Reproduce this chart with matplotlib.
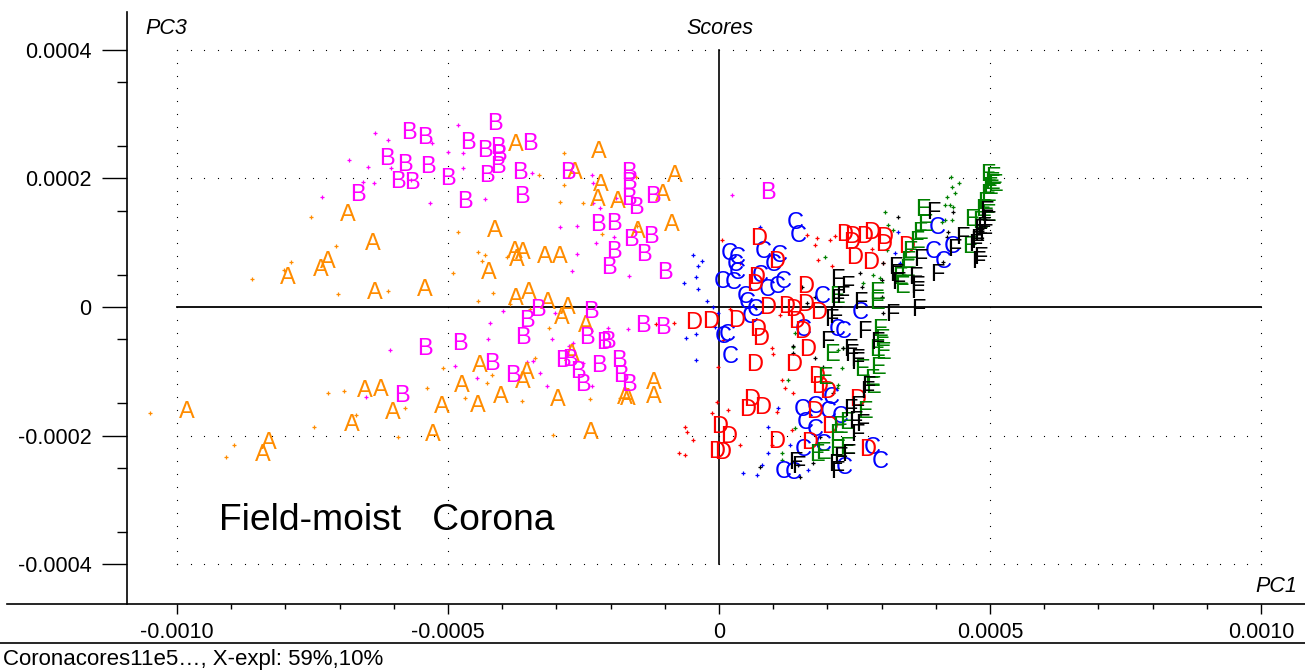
import numpy as np
import matplotlib
matplotlib.use("Agg")
import matplotlib.pyplot as plt
from matplotlib.lines import Line2D
from matplotlib.ticker import FixedLocator, FixedFormatter

plt.rcParams['font.family'] = ['Liberation Sans', 'DejaVu Sans']

SCALE = 1e-4  # score values below are written in units of 1e-4

# Labelled samples per class: (PC1, PC3)
scores_A = [(-9.82, -1.63), (-8.41, -2.30), (-8.30, -2.12), (-7.95, 0.45), (-7.34, 0.58),
            (-7.21, 0.70), (-6.85, 1.43), (-6.38, 0.98), (-6.35, 0.22), (-5.42, 0.26),
            (-6.53, -1.31), (-6.24, -1.29), (-6.77, -1.84), (-6.01, -1.65), (-5.11, -1.56),
            (-5.28, -1.99), (-2.21, 2.41), (-3.75, 2.52), (-2.66, 2.08), (-2.18, 1.90),
            (-0.81, 2.04), (-2.23, 1.66), (-1.86, 1.63), (-1.03, 1.74), (-0.87, 1.28),
            (-1.49, 1.17), (-4.13, 1.18), (-3.76, 0.86), (-3.62, 0.84), (-3.73, 0.73),
            (-3.21, 0.78), (-2.93, 0.78), (-4.24, 0.53), (-3.75, 0.12), (-3.51, 0.22),
            (-3.15, 0.06), (-2.79, -0.02), (-2.90, -0.17), (-2.45, -0.30), (-2.71, -0.75),
            (-4.41, -0.92), (-3.54, -1.03), (-3.62, -1.17), (-4.74, -1.23), (-4.02, -1.40),
            (-4.45, -1.54), (-2.97, -1.45), (-1.73, -1.42), (-1.68, -1.43), (-1.20, -1.18),
            (-1.20, -1.40), (-2.36, -1.96)]
scores_B = [(-5.72, 2.71), (-5.42, 2.63), (-6.13, 2.30), (-5.79, 2.21), (-5.37, 2.18),
            (-5.92, 1.94), (-5.66, 1.93), (-6.66, 1.74), (-4.13, 2.85), (-4.63, 2.55),
            (-4.32, 2.43), (-4.08, 2.47), (-4.06, 2.36), (-3.49, 2.53), (-4.08, 2.18),
            (-5.00, 1.99), (-4.28, 2.04), (-3.67, 2.08), (-2.79, 2.08), (-1.66, 2.08),
            (-1.66, 1.93), (0.90, 1.77), (-4.69, 1.63), (-3.63, 1.71), (-1.66, 1.68),
            (-1.53, 1.54), (-1.22, 1.71), (-2.23, 1.28), (-1.94, 1.29), (-1.62, 1.04),
            (-1.25, 1.09), (-1.94, 0.86), (-1.38, 0.81), (-2.03, 0.61), (-1.00, 0.53),
            (-3.34, -0.05), (-2.36, -0.08), (-3.54, -0.22), (-1.40, -0.30), (-1.03, -0.33),
            (-3.62, -0.48), (-4.78, -0.58), (-2.44, -0.48), (-2.12, -0.56), (-2.05, -0.54),
            (-5.42, -0.65), (-4.19, -0.89), (-3.80, -1.07), (-2.88, -0.84), (-2.75, -0.82),
            (-2.60, -1.01), (-2.21, -0.92), (-1.85, -0.84), (-1.81, -1.07), (-2.51, -1.21),
            (-1.66, -1.21), (-5.85, -1.38)]
scores_C = [(1.40, 1.31), (1.46, 1.10), (0.18, 0.82), (0.33, 0.76), (0.30, 0.65),
            (0.81, 0.86), (1.11, 0.79), (1.00, 0.65), (0.06, 0.39), (0.26, 0.37),
            (0.33, 0.53), (0.76, 0.48), (1.18, 0.39), (1.07, 0.31), (0.48, 0.16),
            (0.52, 0.06), (0.89, 0.26), (0.66, -0.05), (0.57, -0.16), (1.90, 0.16),
            (1.55, -0.36), (0.15, -0.44), (0.07, -0.47), (0.20, -0.78), (4.02, 1.23),
            (3.95, 0.86), (4.13, 0.70), (4.30, 0.93), (2.18, -0.36), (2.29, -0.39),
            (2.60, -0.09), (2.08, -1.42), (1.53, -1.60), (1.77, -1.56), (2.01, -1.63),
            (2.23, -1.71), (1.59, -1.80), (1.77, -1.91), (1.55, -2.22), (1.92, -2.15),
            (2.32, -2.50), (2.82, -2.19), (2.97, -2.41), (1.18, -2.57), (1.37, -2.58)]
scores_D = [(0.74, 1.06), (1.07, 0.70), (0.70, 0.45), (0.66, 0.34), (0.89, -0.02),
            (1.24, 0.00), (1.37, -0.05), (1.59, 0.03), (1.59, 0.31), (1.83, -0.09),
            (1.44, -0.23), (1.55, -0.39), (1.64, -0.67), (-0.46, -0.25), (-0.15, -0.23),
            (0.33, -0.22), (0.72, -0.36), (0.76, -0.50), (0.66, -0.90), (1.37, -0.90),
            (2.32, 1.12), (2.47, 1.09), (2.45, 1.00), (2.69, 1.09), (2.82, 1.15),
            (3.06, 1.07), (3.03, 0.96), (3.47, 0.93), (2.51, 0.76), (2.79, 0.68),
            (1.81, -1.09), (1.86, -1.24), (2.01, -1.32), (0.61, -1.45), (0.52, -1.60),
            (0.81, -1.57), (1.77, -1.63), (2.55, -1.45), (2.05, -1.87), (0.02, -1.87),
            (0.17, -2.02), (1.07, -2.10), (1.68, -2.12), (-0.04, -2.26), (0.06, -2.27),
            (2.75, -2.22)]
scores_E = [(2.18, 0.16), (2.92, 0.22), (2.92, 0.06), (2.97, -0.36), (3.01, -0.51),
            (2.92, -0.67), (3.03, -0.72), (2.08, -0.75), (3.76, 1.51), (3.80, 1.28),
            (3.71, 1.15), (3.65, 1.01), (3.52, 0.86), (3.34, 0.45), (3.38, 0.31),
            (3.49, 0.70), (3.47, 0.58), (4.63, 0.93), (4.96, 2.05), (5.06, 2.01),
            (5.04, 1.93), (5.00, 1.85), (4.96, 1.74), (4.91, 1.62), (4.87, 1.51),
            (4.82, 1.32), (4.67, 1.35), (5.09, 1.90), (4.96, 1.43), (2.64, -0.98),
            (2.93, -0.95), (1.96, -1.10), (2.84, -1.24), (2.82, -1.14), (2.69, -1.63),
            (2.23, -1.87), (2.36, -1.80), (2.18, -1.99), (1.81, -2.30), (1.92, -2.27),
            (2.18, -2.22), (2.36, -2.19)]
scores_F = [(2.18, 0.42), (2.36, 0.31), (2.18, 0.11), (2.27, 0.16), (2.60, 0.06),
            (3.19, -0.12), (3.67, -0.05), (2.14, -0.16), (2.08, -0.20), (2.69, -0.39),
            (2.92, -0.56), (1.99, -0.54), (2.42, -0.67), (2.56, -0.82), (3.95, 1.46),
            (3.25, 0.61), (3.28, 0.50), (3.71, 0.73), (3.62, 0.45), (4.02, 0.50),
            (3.65, 0.31), (4.48, 1.07), (4.76, 1.01), (4.82, 1.20), (4.35, 0.89),
            (4.72, 0.96), (4.78, 0.70), (4.82, 0.76), (4.94, 1.48), (4.96, 1.32),
            (4.87, 1.23), (4.82, 1.12), (4.91, 1.12), (4.76, 1.04), (2.45, -0.75),
            (2.56, -0.87), (2.75, -1.24), (2.73, -1.32), (2.42, -1.60), (2.55, -1.56),
            (2.51, -1.79), (2.64, -1.84), (2.55, -1.99), (2.23, -2.35), (2.38, -2.30),
            (2.14, -2.46), (2.18, -2.57), (1.40, -2.43), (1.46, -2.49), (3.30, 0.37),
            (3.65, 0.23)]

# Samples drawn as small crosses, per class: (PC1, PC3)
cross_A = [(-10.50, -1.65), (-9.10, -2.33), (-8.95, -2.15), (-7.47, -1.87), (-7.21, -1.34),
           (-6.92, -1.31), (-6.70, -1.68), (-5.92, -2.02), (-5.79, -1.57), (-5.39, -1.26),
           (-5.09, -0.95), (-8.62, 0.44), (-7.90, 0.70), (-8.03, 0.58), (-7.53, 1.40),
           (-7.07, 0.95), (-7.03, 0.20), (-6.11, 0.25), (-4.82, 1.17), (-4.45, 0.86),
           (-4.32, 0.81), (-4.37, 0.72), (-4.91, 0.53), (-4.17, 0.22), (-4.45, 0.09),
           (-3.91, 0.78), (-3.86, 0.05), (-2.93, 1.63), (-2.51, 1.62), (-2.86, 2.40),
           (-2.86, 1.90), (-3.32, 2.05), (-2.16, 1.14), (-1.53, 2.02), (-1.51, 1.26),
           (-3.14, -0.33), (-3.49, -0.03), (-4.69, -1.42), (-4.28, -1.18), (-4.19, -1.06),
           (-3.39, -0.79), (-3.63, -1.46), (-2.38, -1.43), (-1.83, -1.42), (-3.06, -1.99)]
cross_B = [(-6.35, 2.71), (-6.11, 2.60), (-6.83, 2.29), (-6.48, 2.18), (-6.05, 2.16),
           (-6.57, 1.94), (-6.37, 1.93), (-7.32, 1.71), (-5.30, 2.55), (-5.00, 2.41),
           (-5.68, 1.98), (-5.33, 1.62), (-6.07, -0.67), (-6.51, -1.40), (-4.82, 2.83),
           (-4.72, 2.40), (-4.72, 2.16), (-4.32, 1.68), (-3.45, 2.08), (-2.34, 2.05),
           (-2.32, 1.93), (-2.32, 1.62), (-2.20, 1.54), (-1.90, 1.70), (-2.93, 1.24),
           (-2.62, 1.26), (-1.94, 1.09), (-2.27, 1.00), (-2.62, 0.82), (-2.71, 0.56),
           (-1.66, 0.48), (-3.99, -0.06), (-4.23, -0.25), (-3.03, -0.09), (-2.05, -0.33),
           (-1.68, -0.34), (-4.26, -0.50), (-3.08, -0.50), (-2.77, -0.61), (-2.69, -0.56),
           (-4.87, -0.92), (-4.46, -1.10), (-3.54, -0.86), (-3.43, -0.84), (-3.30, -1.03),
           (-3.17, -1.23), (-2.51, -0.87), (-2.34, -1.23), (0.24, 1.74)]
cross_C = [(-0.48, 0.81), (-0.31, 0.72), (-0.39, 0.64), (-0.42, 0.47), (-0.65, 0.37),
           (-0.39, 0.28), (-0.22, 0.09), (-0.11, 0.00), (-0.02, -0.09), (-0.42, -0.42),
           (-0.61, -0.48), (-0.07, -0.31), (-0.42, -0.82), (0.76, 1.24), (3.30, 1.17),
           (3.25, 0.84), (3.34, 0.68), (0.44, -2.58), (0.70, -2.61), (1.09, -1.57),
           (0.90, -1.87), (1.31, -2.15), (0.90, -2.27), (1.64, -2.53), (0.79, -2.46)]
cross_D = [(0.06, 1.04), (1.62, 1.12), (1.81, 1.07), (1.77, 0.96), (2.05, 1.04),
           (2.14, 1.10), (1.83, 0.73), (2.08, 0.64), (0.39, 0.68), (2.82, 0.90),
           (3.03, 0.68), (1.13, -0.12), (0.98, -0.64), (1.00, -0.73), (0.20, -0.03),
           (0.07, -0.51), (-0.02, -0.93), (1.16, -1.14), (1.22, -1.26), (-0.04, -1.48),
           (0.17, -1.60), (-0.13, -1.65), (-0.63, -1.87), (-0.59, -1.94), (-0.48, -2.07),
           (0.39, -2.15), (-0.63, -2.30), (1.37, -1.34), (1.07, -1.63), (1.35, -1.91),
           (0.98, -2.15), (-0.74, -2.27), (-1.16, -0.26), (-0.83, -0.25)]
cross_E = [(4.28, 2.02), (4.43, 1.93), (4.30, 1.87), (4.35, 1.77), (4.21, 1.71),
           (4.26, 1.59), (4.17, 1.59), (4.32, 1.56), (4.30, 1.35), (4.17, 1.35),
           (4.11, 1.32), (3.06, 1.48), (3.12, 1.28), (3.21, 1.20), (3.10, 0.89),
           (1.96, 0.78), (2.84, 0.50), (2.97, 0.45), (2.66, 0.37), (1.40, -0.40),
           (1.37, -0.62), (2.20, -0.67), (2.29, -0.64), (2.27, -0.95), (1.27, -1.14),
           (2.20, -1.21), (2.18, -1.26), (1.40, -1.88), (1.16, -2.27), (1.16, -2.38)]
cross_F = [(3.30, 1.40), (4.32, 1.48), (4.23, 1.17), (4.21, 1.09), (4.13, 0.70),
           (3.03, 0.68), (3.01, 0.42), (3.01, 0.16), (3.03, -0.09), (2.60, 0.53),
           (2.64, 0.31), (1.53, 0.31), (1.62, 0.06), (1.77, 0.16), (1.37, -0.72),
           (1.92, -0.93), (1.37, -0.61), (1.77, -0.79), (2.29, -0.64), (2.10, -1.34),
           (1.86, -2.02), (1.73, -2.43), (0.76, -2.49), (1.46, -2.46), (1.49, -2.64)]

classes = ['A', 'B', 'C', 'D', 'E', 'F']
labelled = [scores_A, scores_B, scores_C, scores_D, scores_E, scores_F]
crosses = [cross_A, cross_B, cross_C, cross_D, cross_E, cross_F]
colors = ['#FF8C00', '#FF00FF', '#0000FF', '#FF0000', '#008000', '#000000']

y_ticks = [0.0004, 0.0002, 0.0, -0.0002, -0.0004]
y_tick_labels = ['0.0004', '0.0002', '0', '-0.0002', '-0.0004']
x_ticks = [-0.0010, -0.0005, 0.0, 0.0005, 0.0010]
x_tick_labels = ['-0.0010', '-0.0005', '0', '0.0005', '0.0010']

W, H = 1305, 670
fig = plt.figure(figsize=(W / 100, H / 100), dpi=100)
ax = fig.add_axes([127 / W, 66 / H, (W - 127) / W, (604 - 12) / H])
ax.set_xlim(-0.0010923, 0.0010812)
ax.set_ylim(-0.0004619, 0.0004588)

for side in ('top', 'right', 'bottom'):
    ax.spines[side].set_visible(False)
ax.spines['left'].set_linewidth(1.2)

ax.yaxis.set_major_locator(FixedLocator(y_ticks))
ax.yaxis.set_major_formatter(FixedFormatter(y_tick_labels))
ax.yaxis.set_minor_locator(FixedLocator(np.arange(-0.00035, 0.0004, 0.0001)))
ax.xaxis.set_major_locator(FixedLocator(x_ticks))
ax.xaxis.set_major_formatter(FixedFormatter(x_tick_labels))
ax.xaxis.set_minor_locator(FixedLocator(np.arange(-0.0009, 0.00095, 0.0001)))
ax.tick_params(axis='y', which='major', length=18, width=1.0, pad=7.5, labelsize=15.5)
ax.tick_params(axis='y', which='minor', length=7.5, width=1.0)
ax.tick_params(axis='x', which='major', length=7, width=1.0, pad=6, labelsize=15.5)
ax.tick_params(axis='x', which='minor', length=3.5, width=1.0)

# dotted reference grid inside the +-0.0010 / +-0.0004 box
gx = np.arange(-0.0010, 0.0010 + 1e-9, 0.000025)
gy = np.arange(-0.0004, 0.0004 + 1e-9, 0.00002)
for yv in (0.0004, 0.0002, -0.0002, -0.0004):
    ax.plot(gx, np.full_like(gx, yv), ls='none', marker='s', ms=0.8, mew=0, color='black')
for xv in (-0.0010, -0.0005, 0.0005, 0.0010):
    ax.plot(np.full_like(gy, xv), gy, ls='none', marker='s', ms=0.8, mew=0, color='black')
ax.plot([-0.0010, 0.0010], [0, 0], color='black', lw=1.3)
ax.plot([0, 0], [-0.0004, 0.0004], color='black', lw=1.2)

for pts, col in zip(crosses, colors):
    arr = np.array(pts) * SCALE
    ax.plot(arr[:, 0], arr[:, 1], ls='none', marker='+', ms=3, mew=0.9, color=col)

for cls, pts, col in zip(classes, labelled, colors):
    for x, y in pts:
        ax.text(x * SCALE, y * SCALE, cls, color=col, fontsize=17,
                ha='center', va='center')

# frame lines below the plot
fig.add_artist(Line2D([7 / W, 1], [66 / H, 66 / H], transform=fig.transFigure,
                      color='black', lw=1.2))
fig.add_artist(Line2D([0, 1], [27 / H, 27 / H], transform=fig.transFigure,
                      color='black', lw=1.2))

fig.text(145 / W, 1 - 29 / H, 'PC3', style='italic', fontsize=15.5, ha='left', va='center')
fig.text(720 / W, 1 - 29 / H, 'Scores', style='italic', fontsize=15.5, ha='center', va='center')
fig.text(1297 / W, 1 - 586 / H, 'PC1', style='italic', fontsize=15.5, ha='right', va='center')
fig.text(219 / W, 1 - 521 / H, 'Field-moist   Corona', fontsize=26.8, ha='left', va='center')
fig.text(3 / W, 1 - 660 / H, 'Coronacores11e5\u2026, X-expl: 59%,10%', fontsize=16,
         ha='left', va='center')

fig.savefig('out.png', dpi=100)
